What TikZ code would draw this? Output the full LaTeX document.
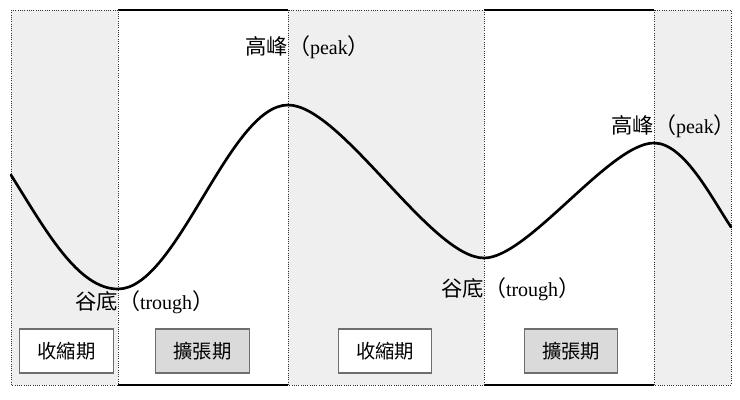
\documentclass[tikz,border=0pt]{standalone}
\usepackage{fontspec}
\setmainfont{Liberation Serif}
\newfontfamily\cjk{Noto Sans CJK TC}
\definecolor{zone}{HTML}{EFEFEF}
\definecolor{boxgray}{HTML}{DADADA}
\definecolor{edge}{HTML}{6E6E6E}
\newcommand{\turnpt}[2]{\makebox[0pt][r]{\cjk\fontsize{16}{18}\selectfont #1}\makebox[0pt][l]{{\cjk\fontsize{16.5}{18}\selectfont （}#2{\cjk\fontsize{16.5}{18}\selectfont ）}}}
\begin{document}
\begin{tikzpicture}[x=0.75pt,y=-0.75pt,
  zonebox/.style={fill=zone,draw=black!80,densely dotted,line width=0.7pt},
  frameline/.style={draw=black,line width=0.8pt},
  phase/.style={draw=edge,line width=0.8pt,minimum width=70pt,minimum height=33pt,
    inner sep=0pt,font=\cjk\fontsize{14.5}{16}\selectfont},
  contraction/.style={phase,fill=white},
  expansion/.style={phase,fill=boxgray},
  turnlabel/.style={inner sep=0pt,font=\fontsize{15}{17}\selectfont},
  wave/.style={draw=black,line width=2pt,line cap=round}]
\useasboundingbox (0,0) rectangle (740,400);
% background zones
\fill[white] (11,10) rectangle (731,385);
\draw[frameline] (118,10) -- (288,10);
\draw[frameline] (484,10) -- (654,10);
\draw[frameline] (118,385) -- (288,385);
\draw[frameline] (484,385) -- (654,385);
\path[zonebox] (11,10) rectangle (118,385);
\path[zonebox] (288,10) rectangle (484,385);
\path[zonebox] (654,10) rectangle (731,385);
% turning points
\coordinate (S) at (11,175);
\coordinate (T1) at (118,289);
\coordinate (P1) at (288,105);
\coordinate (T2) at (484,258);
\coordinate (P2) at (654,143);
\coordinate (E) at (731,227);
% wave
\draw[wave] (S) .. controls (46,231) and (78,289) .. (T1)
  .. controls (177,289) and (229,105) .. (P1)
  .. controls (341,105) and (431,258) .. (T2)
  .. controls (528,258) and (610,143) .. (P2)
  .. controls (684,143) and (711,197) .. (E);
% labels
\node[turnlabel] (lp1) at (288,47) {\turnpt{高峰}{peak}};
\node[turnlabel] (lp2) at (654,126) {\turnpt{高峰}{peak}};
\node[turnlabel] (lt1) at (118,302) {\turnpt{谷底}{trough}};
\node[turnlabel] (lt2) at (484,289) {\turnpt{谷底}{trough}};
% phase boxes
\node[contraction] (c1) at (66.5,351) {收縮期};
\node[expansion] (e1) at (202.5,351) {擴張期};
\node[contraction] (c2) at (385,351) {收縮期};
\node[expansion] (e2) at (571,351) {擴張期};
\end{tikzpicture}
\end{document}
